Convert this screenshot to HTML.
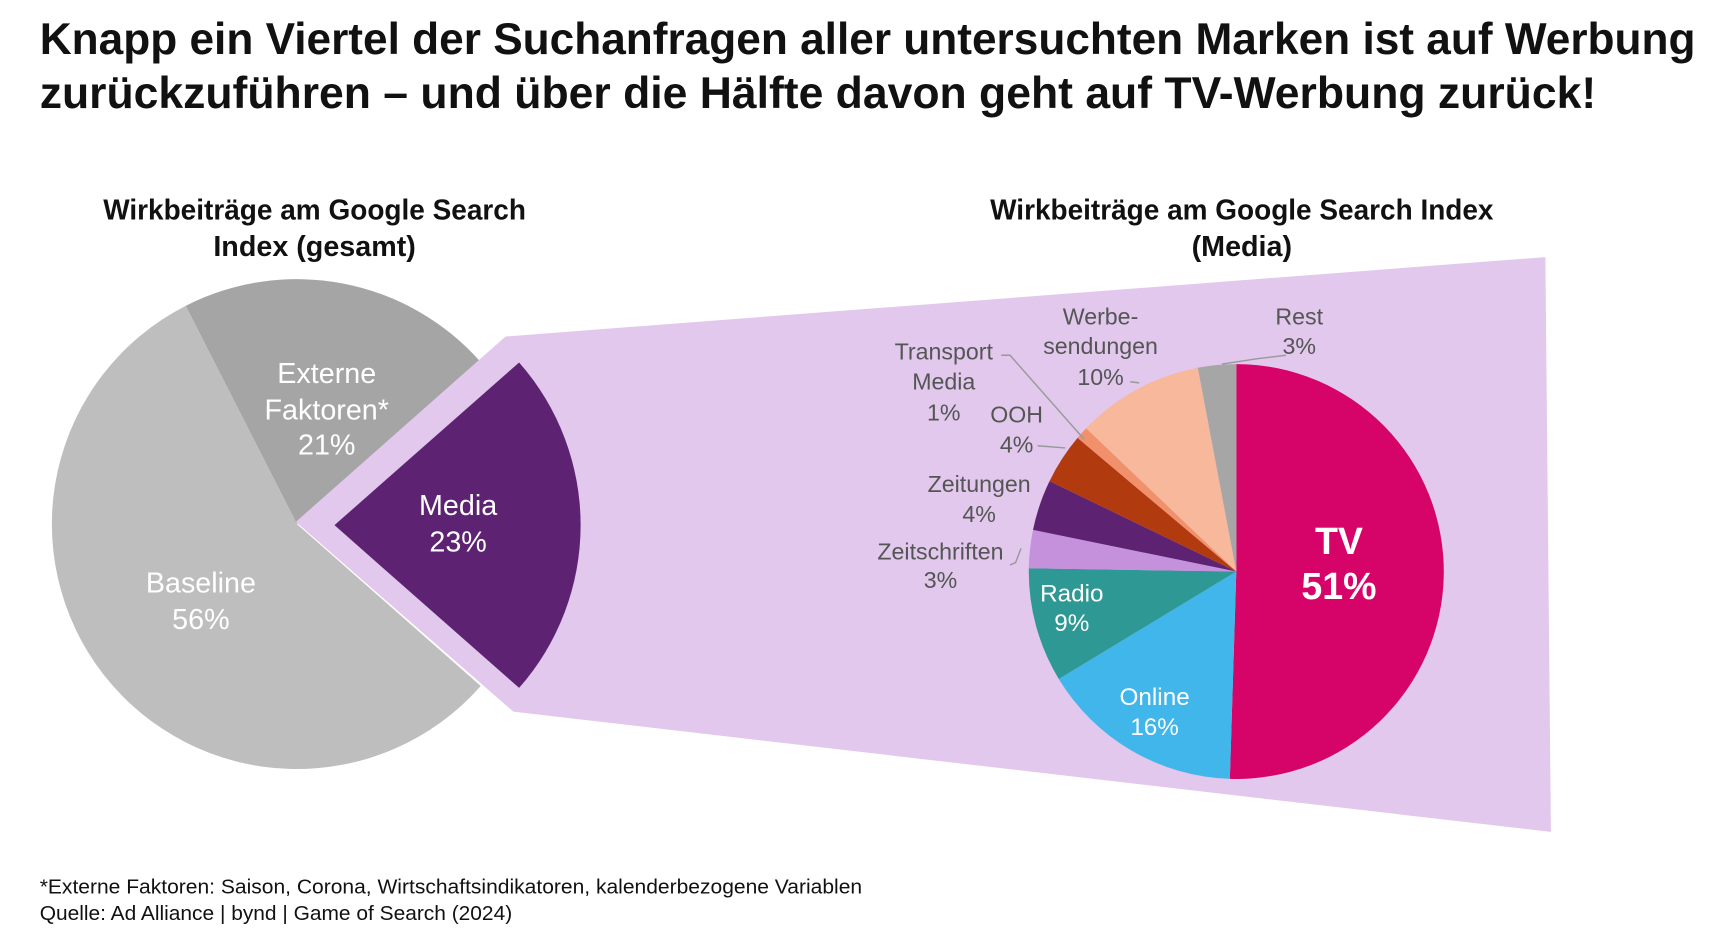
<!DOCTYPE html>
<html><head><meta charset="utf-8"><style>
html,body{margin:0;padding:0;background:#fff}
svg{display:block}
text{font-family:"Liberation Sans",sans-serif}
</style></head><body>
<svg id="s" width="1722" height="929" viewBox="0 0 1560 842" preserveAspectRatio="none" xmlns="http://www.w3.org/2000/svg">
<rect width="1560" height="842" fill="#fff"/>
<text x="36" y="49" font-size="40" font-weight="bold" fill="#111" textLength="1500" lengthAdjust="spacingAndGlyphs">Knapp ein Viertel der Suchanfragen aller untersuchten Marken ist auf Werbung</text>
<text x="36" y="98" font-size="40" font-weight="bold" fill="#111" textLength="1410" lengthAdjust="spacingAndGlyphs">zurückzuführen – und über die Hälfte davon geht auf TV-Werbung zurück!</text>
<g font-size="26" font-weight="bold" fill="#111" text-anchor="middle">
<text x="285" y="199" textLength="383" lengthAdjust="spacingAndGlyphs">Wirkbeiträge am Google Search</text>
<text x="285" y="232">Index (gesamt)</text>
<text x="1125" y="199" textLength="456" lengthAdjust="spacingAndGlyphs">Wirkbeiträge am Google Search Index</text>
<text x="1125" y="232">(Media)</text>
</g>
<g id="left"></g>
<polygon points="268,473 458,305 1400,233 1405,754 465,645" fill="#e1c8ec"/>
<g id="media"></g>
<g id="right"></g>
<g stroke="#999" stroke-width="1.3" fill="none">
<polyline points="907,322 915,322 982,398"/>
<polyline points="1024,346 1032,347"/>
<polyline points="940,404 965,406"/>
<polyline points="915,512 920,510 925,497"/>
<polyline points="1165,322 1140,325 1107,330"/>
</g>
<g font-size="26" fill="#fff" text-anchor="middle">
<text x="296" y="347">Externe</text><text x="296" y="380">Faktoren*</text><text x="296" y="412">21%</text>
<text x="415" y="467">Media</text><text x="415" y="500">23%</text>
<text x="182" y="537">Baseline</text><text x="182" y="570">56%</text>
</g>
<g font-size="34" font-weight="bold" fill="#fff" text-anchor="middle">
<text x="1213" y="502">TV</text><text x="1213" y="543">51%</text>
</g>
<g font-size="22" fill="#fff" text-anchor="middle">
<text x="1046" y="639">Online</text><text x="1046" y="666">16%</text>
<text x="971" y="545">Radio</text><text x="971" y="572">9%</text>
</g>
<g font-size="21" fill="#555" text-anchor="middle">
<text x="852" y="507">Zeitschriften</text><text x="852" y="533">3%</text>
<text x="887" y="446">Zeitungen</text><text x="887" y="473">4%</text>
<text x="921" y="383">OOH</text><text x="921" y="410">4%</text>
<text x="855" y="326">Transport</text><text x="855" y="353">Media</text><text x="855" y="381">1%</text>
<text x="997" y="294">Werbe-</text><text x="997" y="321">sendungen</text><text x="997" y="349">10%</text>
<text x="1177" y="294">Rest</text><text x="1177" y="321">3%</text>
</g>
<g font-size="18" fill="#111">
<text x="36" y="810" textLength="745" lengthAdjust="spacingAndGlyphs">*Externe Faktoren: Saison, Corona, Wirtschaftsindikatoren, kalenderbezogene Variablen</text>
<text x="36" y="834" textLength="428" lengthAdjust="spacingAndGlyphs">Quelle: Ad Alliance | bynd | Game of Search (2024)</text>
</g>
</svg>
<script>
function pt(cx,cy,r,a){a=a*Math.PI/180;return [cx+r*Math.sin(a),cy-r*Math.cos(a)];}
function wedge(cx,cy,r,a0,a1,c){var p0=pt(cx,cy,r,a0),p1=pt(cx,cy,r,a1);var l=(a1-a0)>180?1:0;
return '<path d="M'+cx+','+cy+' L'+p0[0].toFixed(2)+','+p0[1].toFixed(2)+' A'+r+','+r+' 0 '+l+' 1 '+p1[0].toFixed(2)+','+p1[1].toFixed(2)+' Z" fill="'+c+'"/>';}
document.getElementById('left').innerHTML=wedge(269,475,222,-27,48.6,'#a5a5a5')+wedge(269,475,222,131.4,333,'#bebebe');
document.getElementById('media').innerHTML=wedge(303,476,223,48.6,131.4,'#5d2372');
var d=[[51,'#d60469'],[16,'#41b6ea'],[9,'#2e9895'],[3,'#c591dc'],[4,'#5d2372'],[4,'#b13a0e'],[1,'#f1916b'],[10,'#f7b89b'],[3,'#a6a6a6']];
var tot=101,a=0,h='';
d.forEach(function(x){var b=a+x[0]/tot*360;h+=wedge(1120,518,188,a,b,x[1]);a=b;});
document.getElementById('right').innerHTML=h;
</script>
</body></html>
